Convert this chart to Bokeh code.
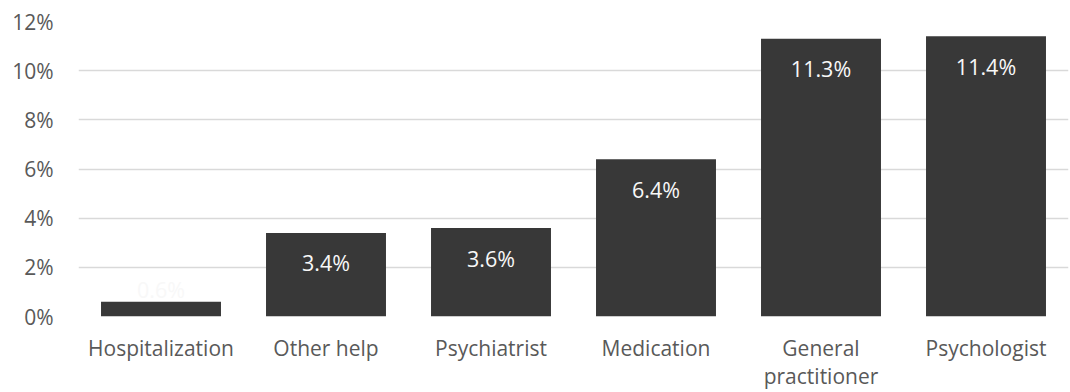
from bokeh.plotting import figure
from bokeh.models import ColumnDataSource, NumeralTickFormatter, FixedTicker
from bokeh.core.properties import value
from bokeh.embed import file_html
from bokeh.resources import INLINE

categories = ["Hospitalization", "Other help", "Psychiatrist", "Medication", "General\npractitioner", "Psychologist"]
values = [0.006, 0.034, 0.036, 0.064, 0.113, 0.114]
value_labels = ["0.6%", "3.4%", "3.6%", "6.4%", "11.3%", "11.4%"]
y_ticks = [0, 0.02, 0.04, 0.06, 0.08, 0.10, 0.12]

FONT = "Open Sans"
FS = "21px"
W, H = 1070, 392
TOP, BOTTOM = 21, 76
p = figure(x_range=categories, y_range=(0, 0.12), width=W, height=H,
           output_backend="svg", toolbar_location=None,
           min_border_left=78, min_border_right=2, min_border_top=TOP, min_border_bottom=BOTTOM)

frame_h = H - TOP - BOTTOM
offsets = [(-12 if v / 0.12 * frame_h < 40 else 30) for v in values]
src = ColumnDataSource(dict(cat=categories, val=values, lab=value_labels, off=offsets))

p.vbar(x="cat", top="val", width=0.727, source=src, fill_color="#383838", line_color=None)
p.text(x="cat", y="val", text="lab", y_offset="off", source=src, text_color="#f8f8f8",
       text_align="center", text_baseline="middle", text_font=value(FONT), text_font_size="21.5px")

p.outline_line_color = None
p.xgrid.grid_line_color = None
p.ygrid.grid_line_color = "#d9d9d9"
p.ygrid.grid_line_width = 1.5
p.yaxis.ticker = FixedTicker(ticks=y_ticks)
p.yaxis.formatter = NumeralTickFormatter(format="0%")
for ax in (p.xaxis, p.yaxis):
    ax.axis_line_color = None
    ax.major_tick_line_color = None
    ax.minor_tick_line_color = None
    ax.major_tick_out = 0
    ax.major_tick_in = 0
    ax.major_label_text_color = "#595959"
    ax.major_label_text_font = FONT
    ax.major_label_text_font_size = FS
p.yaxis.major_label_standoff = 25
p.xaxis.major_label_standoff = 17
p.xaxis.major_label_text_line_height = 1.0
p.x_range.range_padding = 0

open("out.html", "w").write(file_html(p, INLINE))
